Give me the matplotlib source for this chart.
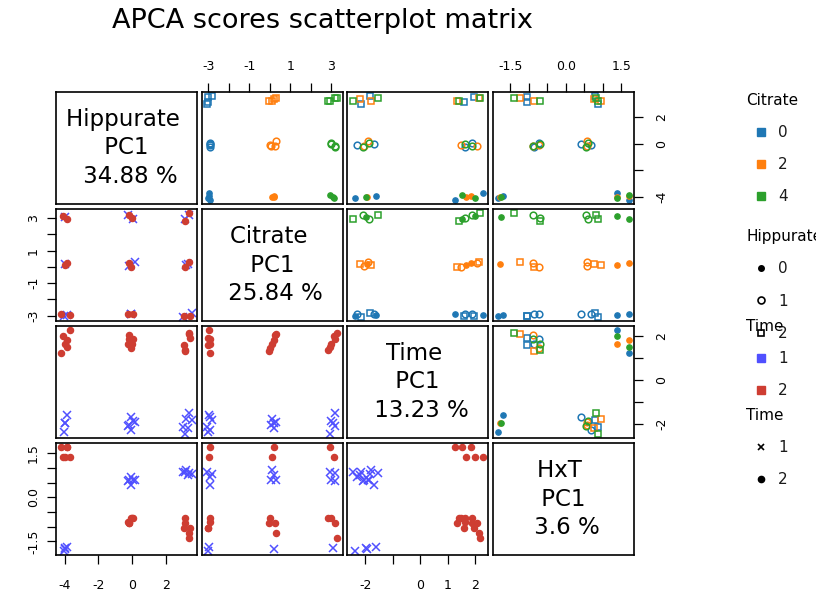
import matplotlib
matplotlib.use("Agg")
import matplotlib.pyplot as plt
from matplotlib.lines import Line2D

plt.rcParams["axes.unicode_minus"] = False

# design factors, one entry per observation
hippurate = [0] * 10 + [1] * 12 + [2] * 12
citrate = [0, 0, 2, 4, 0, 0, 2, 2, 4, 4] + [0, 0, 2, 2, 4, 4] * 4
time = [1, 1, 1, 1, 2, 2, 2, 2, 2, 2] + [1] * 6 + [2] * 6 + [1] * 6 + [2] * 6

# PC1 scores
hip_pc1 = [-4.05, -3.88, -3.98, -4.00, -4.20, -3.70, -4.00, -3.88, -3.83, -4.08,
           -0.08, -0.05, -0.20, 0.17, -0.25, 0.08,
           -0.25, 0.05, -0.08, -0.15, 0.00, -0.15,
           3.00, 3.55, 3.32, 3.20, 3.17, 3.40,
           3.08, 3.45, 3.17, 3.38, 3.17, 3.38]
cit_pc1 = [-3.00, -2.96, 0.20, 3.09, -2.92, -2.98, 0.12, 0.23, 2.94, 3.15,
           -2.92, -2.92, 0.06, 0.33, 3.17, 2.98,
           -2.92, -2.90, 0.02, 0.27, 3.00, 3.21,
           -3.07, -2.82, 0.19, 0.12, 2.94, 3.21,
           -3.00, -3.00, -0.02, 0.33, 2.84, 3.31]
time_pc1 = [-2.36, -1.61, -1.95, -1.98, 1.25, 2.28, 1.66, 1.85, 1.52, 2.00,
            -2.30, -1.67, -2.05, -1.90, -2.08, -1.88,
            1.64, 1.88, 1.48, 2.06, 1.64, 1.88,
            -2.15, -1.82, -2.18, -1.79, -2.46, -1.52,
            1.58, 1.94, 1.33, 2.12, 1.39, 2.16]
hxt_pc1 = [-1.82, -1.70, -1.76, -1.74, 1.70, 1.37, 1.37, 1.70, 1.70, 1.37,
           0.69, 0.42, 0.58, 0.58, 0.55, 0.60,
           -0.85, -0.72, -0.72, -0.87, -0.69, -0.89,
           0.87, 0.80, 0.76, 0.94, 0.87, 0.82,
           -1.05, -1.05, -0.86, -1.23, -0.69, -1.40]

names = ["Hippurate", "Citrate", "Time", "HxT"]
percents = ["34.88", "25.84", "13.23", "3.6"]

tick_pos = [[-4, -2, 0, 2],
            [-3, -2, -1, 0, 1, 2, 3],
            [-2, -1, 0, 1, 2],
            [-1.5, -1.0, -0.5, 0.0, 0.5, 1.0, 1.5]]
# labels on the side axes (top / right) and the bottom / left ones
labels_side = [["-4", "", "0", "2"],
               ["-3", "", "-1", "", "1", "", "3"],
               ["-2", "", "0", "", "2"],
               ["-1.5", "", "", "0.0", "", "", "1.5"]]
labels_main = [["-4", "-2", "0", "2"],
               ["-3", "", "-1", "", "1", "", "3"],
               ["-2", "", "0", "1", "2"],
               ["-1.5", "", "", "0.0", "", "", "1.5"]]

cit_colors = {0: "#1F77B4", 2: "#FF7F0E", 4: "#2CA02C"}
time_colors = {1: "#5050FF", 2: "#CE3D32"}

scores = [hip_pc1, cit_pc1, time_pc1, hxt_pc1]
n = len(names)

fig = plt.figure(figsize=(8.16, 6.12), dpi=100)
W, H = 816.0, 612.0

for i in range(n):
    for j in range(n):
        left = 56 + j * 145.67
        top = 92 + i * 117
        ax = fig.add_axes([left / W, 1 - (top + 112) / H, 141 / W, 112 / H])
        for s in ax.spines.values():
            s.set_linewidth(1.2)
        ax.tick_params(which="both", top=False, bottom=False, left=False, right=False,
                       labeltop=False, labelbottom=False, labelleft=False, labelright=False,
                       length=6.5, width=0.9, pad=7, labelsize=9)
        if i == j:
            ax.text(0.5, 0.5, f"{names[i]} \n PC1 \n {percents[i]} %",
                    ha="center", va="center", fontsize=16.5, linespacing=1.3,
                    transform=ax.transAxes)
            ax.set_xticks([])
            ax.set_yticks([])
            continue

        xs, ys = scores[j], scores[i]
        for k in range(len(xs)):
            if j > i:
                c = cit_colors[citrate[k]]
                h = hippurate[k]
                if h == 0:
                    ax.plot(xs[k], ys[k], "o", ms=3.8, color=c, mec=c)
                elif h == 1:
                    ax.plot(xs[k], ys[k], "o", ms=4.8, mfc="none", mec=c, mew=1.1)
                else:
                    ax.plot(xs[k], ys[k], "s", ms=4.2, mfc="none", mec=c, mew=1.1)
            else:
                c = time_colors[time[k]]
                if time[k] == 1:
                    ax.plot(xs[k], ys[k], "x", ms=5.5, color=c, mew=1.1)
                else:
                    ax.plot(xs[k], ys[k], "o", ms=4.4, color=c, mec=c)
        ax.margins(0.04)

        ax.set_xticks(tick_pos[j])
        ax.set_yticks(tick_pos[i])
        if i == 0 and j % 2 == 1:
            ax.set_xticklabels(labels_side[j])
            ax.tick_params(axis="x", top=True, labeltop=True, pad=7)
        if i == n - 1 and j % 2 == 0:
            ax.set_xticklabels(labels_main[j])
            ax.tick_params(axis="x", bottom=True, labelbottom=True, pad=10.5)
        if j == 0 and i % 2 == 1:
            ax.set_yticklabels(labels_main[i], rotation=90, va="center")
            ax.tick_params(axis="y", left=True, labelleft=True, pad=5)
        if j == n - 1 and i % 2 == 0:
            ax.set_yticklabels(labels_side[i], rotation=90, va="center")
            ax.tick_params(axis="y", right=True, labelright=True, pad=9)

fig.text(322 / W, 1 - 21 / H, "APCA scores scatterplot matrix",
         ha="center", va="center", fontsize=19.5)

# legends on the right
leg_kw = dict(frameon=False, fontsize=11, title_fontsize=11, alignment="left",
              handlelength=2.0, handletextpad=0.1, labelspacing=1.13,
              borderpad=0.4, borderaxespad=0, loc="upper left", labelcolor="#1a1a1a")

cit_handles = [Line2D([], [], ls="none", marker="s", ms=5.5, color=cit_colors[v]) for v in [0, 2, 4]]
fig.legend(cit_handles, ["0", "2", "4"], title="Citrate",
           bbox_to_anchor=(740 / W, 1 - 86.5 / H), **leg_kw)

hip_handles = [Line2D([], [], ls="none", marker="o", ms=4, color="black"),
               Line2D([], [], ls="none", marker="o", ms=5, mfc="none", mec="black", mew=1.2),
               Line2D([], [], ls="none", marker="s", ms=4.5, mfc="none", mec="black", mew=1.2)]
fig.legend(hip_handles, ["0", "1", "2"], title="Hippurate",
           bbox_to_anchor=(740 / W, 1 - 223 / H), **leg_kw)

time_handles = [Line2D([], [], ls="none", marker="s", ms=5.5, color=time_colors[v]) for v in [1, 2]]
fig.legend(time_handles, ["1", "2"], title="Time",
           bbox_to_anchor=(740 / W, 1 - 312.5 / H), **leg_kw)

shape_handles = [Line2D([], [], ls="none", marker="x", ms=5, color="black", mew=1.2),
                 Line2D([], [], ls="none", marker="o", ms=4.5, color="black")]
fig.legend(shape_handles, ["1", "2"], title="Time",
           bbox_to_anchor=(740 / W, 1 - 401.5 / H), **leg_kw)

fig.savefig("out.png", dpi=100)
